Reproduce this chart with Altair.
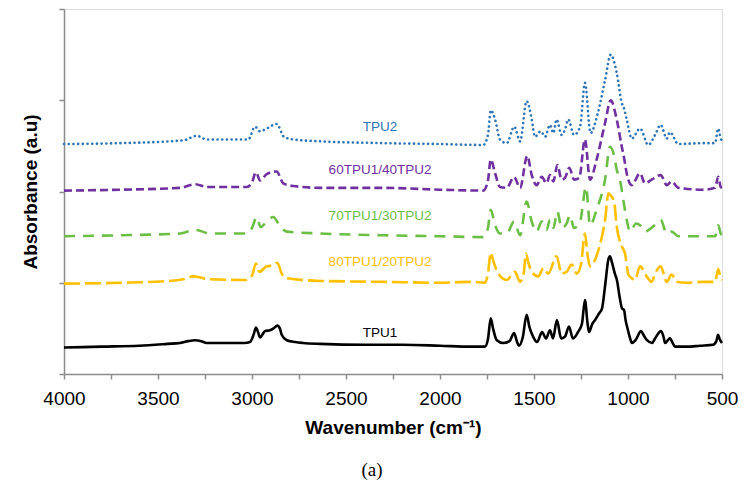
import altair as alt
import pandas as pd

# ---- data (wavenumber cm-1, plotted absorbance a.u. incl. offset) ----
tpu1_wn = [4000, 3800, 3600, 3450, 3383, 3340, 3303, 3270, 3241, 3135, 3040, 3011, 2990, 2979, 2968, 2957,
           2945, 2931, 2904, 2885, 2865, 2852, 2842, 2815, 2770, 2729, 2638, 2400, 2200, 2000, 1840, 1761,
           1745, 1730, 1718, 1698, 1665, 1630, 1606, 1590, 1580, 1560, 1539, 1525, 1505, 1484, 1457, 1436,
           1415, 1399, 1378, 1356, 1335, 1314, 1293, 1266, 1245, 1229, 1215, 1207, 1190, 1176, 1155, 1138,
           1120, 1105, 1096, 1085, 1070, 1059, 1045, 1032, 1021, 1012, 1005, 990, 979, 960, 931, 915, 899,
           872, 856, 824, 810, 803, 777, 760, 750, 686, 617, 548, 530, 521, 512, 500]
tpu1_val = [0.29, 0.30, 0.31, 0.33, 0.34, 0.36, 0.37, 0.36, 0.34, 0.34, 0.34, 0.35, 0.44, 0.51, 0.46, 0.40,
            0.43, 0.47, 0.48, 0.50, 0.53, 0.50, 0.43, 0.37, 0.35, 0.34, 0.33, 0.32, 0.32, 0.31, 0.30, 0.30,
            0.38, 0.61, 0.50, 0.37, 0.34, 0.36, 0.45, 0.35, 0.31, 0.40, 0.65, 0.52, 0.41, 0.35, 0.46, 0.39,
            0.48, 0.39, 0.59, 0.39, 0.41, 0.52, 0.39, 0.46, 0.55, 0.81, 0.55, 0.46, 0.55, 0.59, 0.66, 0.72,
            1.00, 1.25, 1.29, 1.22, 1.10, 1.03, 0.85, 0.72, 0.70, 0.58, 0.52, 0.40, 0.34, 0.37, 0.47, 0.42, 0.37,
            0.34, 0.39, 0.47, 0.40, 0.34, 0.39, 0.33, 0.30, 0.30, 0.31, 0.32, 0.36, 0.43, 0.38, 0.34]

b80_wn = [4000, 3700, 3436, 3360, 3314, 3280, 3241, 3037, 3000, 2979, 2961, 2922, 2890, 2865, 2842, 2815,
          2638, 2300, 2000, 1840, 1761, 1745, 1730, 1718, 1707, 1690, 1645, 1601, 1574, 1555, 1543, 1530,
          1512, 1477, 1450, 1424, 1380, 1353, 1326, 1300, 1273, 1250, 1229, 1215, 1202, 1157, 1122, 1104,
          1090, 1074, 1060, 1033, 1016, 998, 980, 963, 936, 901, 874, 856, 826, 794, 768, 741, 688, 601,
          537, 520, 507, 500]
b80_val = [0.99, 1.00, 1.02, 1.04, 1.07, 1.06, 1.04, 1.03, 1.08, 1.21, 1.12, 1.18, 1.19, 1.22, 1.10, 1.05,
           1.02, 1.01, 1.00, 1.01, 1.00, 1.10, 1.33, 1.25, 1.18, 1.10, 1.03, 1.12, 1.01, 1.10, 1.32, 1.22,
           1.12, 1.07, 1.16, 1.10, 1.29, 1.10, 1.12, 1.20, 1.10, 1.20, 1.54, 1.30, 1.18, 1.36, 1.69, 1.98,
           1.95, 1.89, 1.62, 1.40, 1.32, 1.09, 1.05, 1.03, 1.18, 1.07, 1.01, 1.10, 1.18, 1.01, 1.09, 1.01, 1.00, 1.01,
           1.01, 1.15, 1.05, 1.03]

b70_wn = [4000, 3700, 3383, 3303, 3223, 3028, 3000, 2975, 2954, 2922, 2887, 2851, 2815, 2638, 2300, 2000,
          1770, 1745, 1730, 1707, 1681, 1645, 1606, 1574, 1539, 1512, 1486, 1459, 1433, 1415, 1397, 1376,
          1353, 1326, 1309, 1287, 1255, 1223, 1202, 1167, 1122, 1096, 1075, 1060, 1043, 1025, 1007, 989,
          957, 936, 910, 865, 826, 794, 768, 732, 601, 537, 520, 507, 500]
b70_val = [1.51, 1.52, 1.54, 1.58, 1.54, 1.54, 1.60, 1.72, 1.61, 1.67, 1.72, 1.62, 1.56, 1.54, 1.52, 1.51,
           1.50, 1.60, 1.80, 1.63, 1.54, 1.54, 1.67, 1.52, 1.89, 1.67, 1.56, 1.67, 1.58, 1.69, 1.60, 1.78,
           1.60, 1.65, 1.74, 1.60, 1.67, 2.05, 1.63, 1.80, 2.13, 2.49, 2.40, 2.24, 2.13, 1.91, 1.69, 1.56,
           1.65, 1.63, 1.56, 1.62, 1.69, 1.54, 1.56, 1.51, 1.51, 1.51, 1.63, 1.54, 1.52]

b60_wn = [4000, 3700, 3383, 3303, 3241, 3028, 3000, 2979, 2957, 2922, 2869, 2834, 2780, 2638, 2300, 2000,
          1770, 1745, 1730, 1707, 1681, 1645, 1606, 1574, 1536, 1512, 1486, 1459, 1433, 1415, 1397, 1376,
          1353, 1335, 1312, 1287, 1259, 1229, 1202, 1167, 1122, 1092, 1060, 1033, 1021, 1007, 980, 936,
          910, 874, 826, 794, 768, 732, 600, 537, 520, 507, 500]
b60_val = [2.01, 2.02, 2.04, 2.08, 2.05, 2.05, 2.10, 2.21, 2.12, 2.19, 2.22, 2.09, 2.06, 2.04, 2.04, 2.02,
           2.01, 2.12, 2.35, 2.20, 2.05, 2.04, 2.16, 2.04, 2.39, 2.18, 2.07, 2.16, 2.09, 2.18, 2.11, 2.29,
           2.13, 2.15, 2.26, 2.13, 2.15, 2.57, 2.13, 2.35, 2.75, 3.00, 2.79, 2.49, 2.37, 2.20, 2.07, 2.20,
           2.09, 2.13, 2.18, 2.07, 2.11, 2.04, 2.02, 2.04, 2.16, 2.05, 2.04]

tpu2_wn = [4000, 3700, 3366, 3294, 3241, 3020, 2984, 2957, 2922, 2869, 2830, 2780, 2638, 2300, 2000, 1770,
           1745, 1730, 1707, 1681, 1645, 1605, 1574, 1539, 1512, 1495, 1464, 1441, 1415, 1397, 1380, 1353,
           1335, 1318, 1287, 1255, 1229, 1199, 1163, 1122, 1092, 1060, 1033, 1021, 1007, 980, 936, 892,
           856, 826, 794, 777, 732, 600, 537, 520, 507, 500]
tpu2_val = [2.52, 2.53, 2.56, 2.61, 2.57, 2.57, 2.71, 2.66, 2.69, 2.74, 2.60, 2.57, 2.55, 2.53, 2.52, 2.51,
            2.62, 2.89, 2.79, 2.57, 2.53, 2.71, 2.55, 2.99, 2.79, 2.60, 2.66, 2.60, 2.73, 2.64, 2.79, 2.62,
            2.68, 2.79, 2.62, 2.71, 3.19, 2.64, 2.84, 3.22, 3.50, 3.30, 2.97, 2.91, 2.79, 2.58, 2.69, 2.51,
            2.62, 2.73, 2.58, 2.65, 2.52, 2.53, 2.53, 2.69, 2.58, 2.56]

series_names = ["TPU1", "80TPU1/20TPU2", "70TPU1/30TPU2", "60TPU1/40TPU2", "TPU2"]
series_colors = ["#000000", "#FFC000", "#6CBF45", "#7030A0", "#2E75B6"]
label_wn = [2319, 2319, 2319, 2319, 2319]
label_y = [0.45, 1.23, 1.73, 2.24, 2.71]

x_ticks = list(range(500, 4001, 250))
y_ticks = [0, 1, 2, 3, 4]

# ---- chart ----
xscale = alt.Scale(domain=[500, 4000], reverse=True, nice=False, zero=False)
yscale = alt.Scale(domain=[0, 4], nice=False)

xaxis = alt.Axis(values=x_ticks, format="d", grid=False, tickSize=5,
                 labelExpr="datum.value % 500 == 0 ? datum.label : ''",
                 labelFlush=False, labelOverlap=False,
                 domainColor="#8c8c8c", tickColor="#8c8c8c", domainWidth=1.5, tickWidth=1.5,
                 labelFont="Liberation Sans", labelFontSize=19, labelColor="#000000", labelPadding=10,
                 title="Wavenumber (cm⁻¹)", titleFont="Liberation Sans", titleFontSize=19,
                 titleFontWeight="bold", titleColor="#000000", titlePadding=10)
yaxis = alt.Axis(values=y_ticks, labels=False, grid=False, tickSize=5,
                 domainColor="#8c8c8c", tickColor="#8c8c8c", domainWidth=1.5, tickWidth=1.5,
                 title="Absorbance (a.u)", titleFont="Liberation Sans", titleFontSize=19,
                 titleFontWeight="bold", titleColor="#000000", titlePadding=18)

dash_styles = [None, [16, 5], [11, 8], [8, 4], [0.1, 4.6]]
caps = ["butt", "butt", "butt", "butt", "round"]
all_wn = [tpu1_wn, b80_wn, b70_wn, b60_wn, tpu2_wn]
all_val = [tpu1_val, b80_val, b70_val, b60_val, tpu2_val]

layers = []
for i, name in enumerate(series_names):
    df = pd.DataFrame({"wn": all_wn[i], "a": all_val[i]})
    kw = dict(color=series_colors[i], strokeWidth=2.6, strokeCap=caps[i], strokeJoin="round",
              interpolate="monotone")
    if dash_styles[i] is not None:
        kw["strokeDash"] = dash_styles[i]
    enc = dict(x=alt.X("wn:Q", scale=xscale, axis=xaxis),
               y=alt.Y("a:Q", scale=yscale, axis=yaxis)) if i == 0 else dict(
               x=alt.X("wn:Q", scale=xscale), y=alt.Y("a:Q", scale=yscale))
    layers.append(alt.Chart(df).mark_line(**kw).encode(**enc))

lab_df = pd.DataFrame({"wn": label_wn, "a": label_y, "name": series_names, "col": series_colors})
labels = alt.Chart(lab_df).mark_text(font="Liberation Sans", fontSize=13.5, align="center",
                                     baseline="middle").encode(
    x=alt.X("wn:Q", scale=xscale), y=alt.Y("a:Q", scale=yscale),
    text="name:N", color=alt.Color("col:N", scale=None))

chart = alt.layer(*layers, labels).properties(
    width=658, height=365,
    autosize=alt.AutoSizeParams(type="none"),
    padding={"left": 56, "top": 1, "right": 17, "bottom": 110},
    title=alt.TitleParams("(a)", orient="bottom", anchor="middle", font="Liberation Serif",
                          fontSize=19, fontWeight="normal", color="#000000", offset=24, dx=-21),
).configure_view(stroke=None).configure(background="#ffffff")

chart.save("out.html", embed_options={"renderer": "svg", "actions": False})
